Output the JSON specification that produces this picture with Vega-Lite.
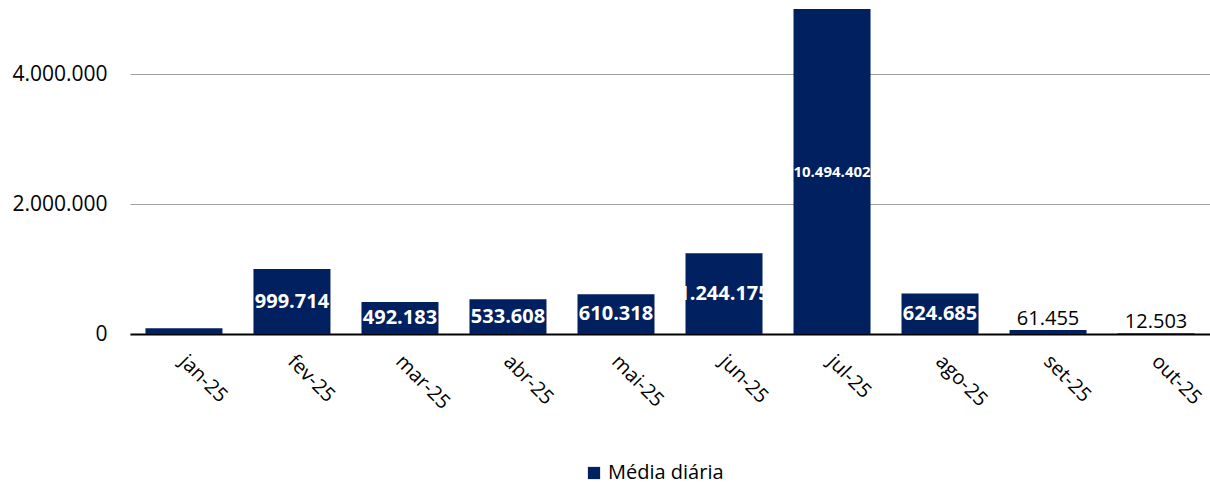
{
  "$schema": "https://vega.github.io/schema/vega-lite/v6.json",
  "width": 1080,
  "height": 325,
  "autosize": {"type": "none"},
  "padding": {"left": 130, "top": 9, "right": 0, "bottom": 151},
  "background": "white",
  "config": {
    "view": {"stroke": null},
    "font": "Open Sans",
    "locale": {"number": {"decimal": ",", "thousands": ".", "grouping": [3], "currency": ["R$", ""]}}
  },
  "data": {
    "values": [
      {"mes": "jan-25", "valor": 88000, "rotulo": "", "serie": "Média diária"},
      {"mes": "fev-25", "valor": 999714, "rotulo": "999.714", "serie": "Média diária"},
      {"mes": "mar-25", "valor": 492183, "rotulo": "492.183", "serie": "Média diária"},
      {"mes": "abr-25", "valor": 533608, "rotulo": "533.608", "serie": "Média diária"},
      {"mes": "mai-25", "valor": 610318, "rotulo": "610.318", "serie": "Média diária"},
      {"mes": "jun-25", "valor": 1244175, "rotulo": "1.244.175", "serie": "Média diária"},
      {"mes": "jul-25", "valor": 10494402, "rotulo": "10.494.402", "serie": "Média diária"},
      {"mes": "ago-25", "valor": 624685, "rotulo": "624.685", "serie": "Média diária"},
      {"mes": "set-25", "valor": 61455, "rotulo": "61.455", "serie": "Média diária"},
      {"mes": "out-25", "valor": 12503, "rotulo": "12.503", "serie": "Média diária"}
    ]
  },
  "encoding": {
    "x": {
      "field": "mes",
      "type": "ordinal",
      "sort": null,
      "scale": {"paddingInner": 0.287, "paddingOuter": 0.143},
      "axis": {
        "title": null,
        "labelAngle": 45,
        "labelAlign": "left",
        "labelBaseline": "top",
        "labelFontSize": 20,
        "labelColor": "#000000",
        "labelPadding": 17,
        "labelOffset": 6,
        "ticks": false,
        "grid": false,
        "domainColor": "#000000",
        "domainWidth": 2
      }
    }
  },
  "layer": [
    {
      "mark": {"type": "bar", "clip": true},
      "encoding": {
        "y": {
          "field": "valor",
          "type": "quantitative",
          "scale": {"domain": [0, 5000000], "nice": false},
          "axis": {
            "title": null,
            "values": [0, 2000000, 4000000],
            "format": ",d",
            "labelFontSize": 21,
            "labelColor": "#000000",
            "labelPadding": 23,
            "domain": false,
            "ticks": false,
            "grid": true,
            "gridColor": "#a0a0a0",
            "gridWidth": 1.2
          }
        },
        "color": {
          "field": "serie",
          "type": "nominal",
          "scale": {"range": ["#002060"]},
          "legend": {
            "orient": "none",
            "legendX": 454,
            "legendY": 454,
            "title": null,
            "symbolType": "square",
            "symbolSize": 150,
            "symbolStrokeWidth": 0,
            "labelFontSize": 20,
            "labelColor": "#000000",
            "direction": "horizontal"
          }
        }
      }
    },
    {
      "transform": [
        {"filter": "datum.valor > 200000"},
        {"calculate": "min(datum.valor, 5000000) / 2", "as": "meio"}
      ],
      "mark": {"type": "text", "color": "white", "fontWeight": "bold", "baseline": "middle"},
      "encoding": {
        "y": {"field": "meio", "type": "quantitative", "scale": {"domain": [0, 5000000], "nice": false}},
        "text": {"field": "rotulo"},
        "size": {"condition": {"test": "datum.valor > 5000000", "value": 15}, "value": 20}
      }
    },
    {
      "transform": [{"filter": "datum.valor < 200000 && datum.rotulo != ''"}],
      "mark": {"type": "text", "color": "black", "fontSize": 20, "baseline": "alphabetic", "dy": -5},
      "encoding": {
        "y": {"field": "valor", "type": "quantitative", "scale": {"domain": [0, 5000000], "nice": false}},
        "text": {"field": "rotulo"}
      }
    }
  ]
}
